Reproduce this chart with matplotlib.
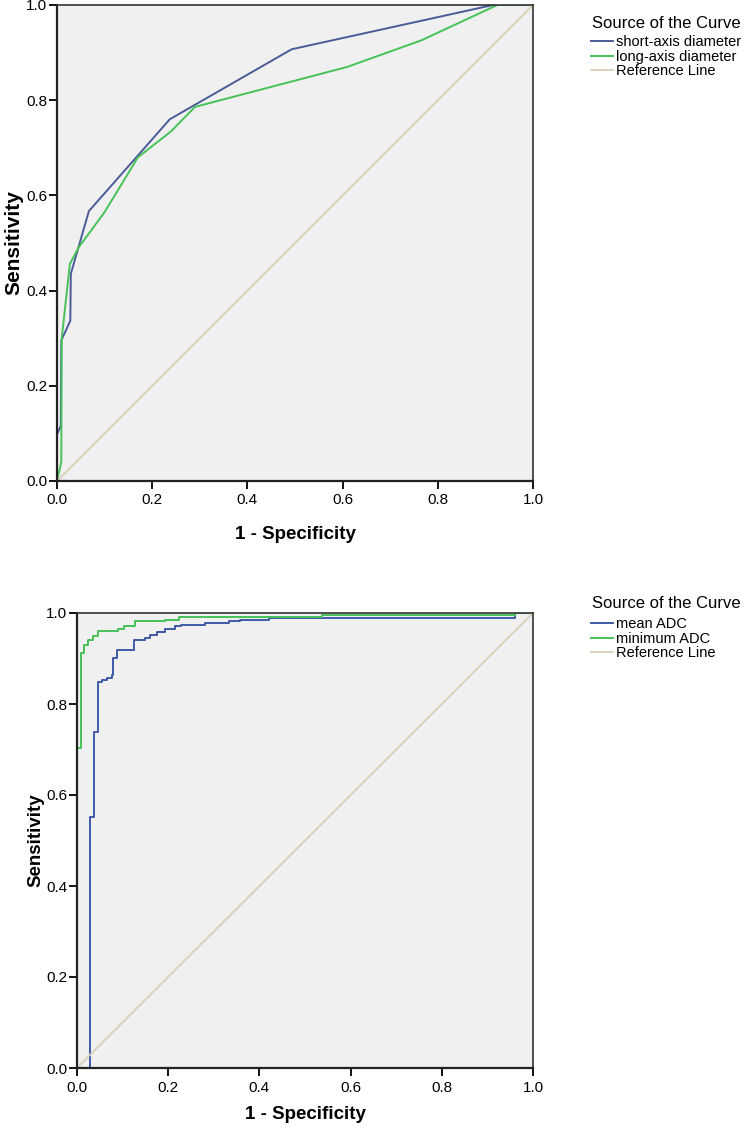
import matplotlib
matplotlib.use("Agg")
import matplotlib.pyplot as plt

plt.rcParams['font.family'] = ['Liberation Sans', 'DejaVu Sans']

# ---- top panel data ----
short_fpr = [0, 0, 0.008, 0.009, 0.028, 0.029, 0.067, 0.237, 0.493, 0.916, 1.0]
short_tpr = [0, 0.098, 0.116, 0.295, 0.337, 0.435, 0.567, 0.760, 0.907, 1.0, 1.0]
long_fpr = [0, 0.009, 0.010, 0.027, 0.045, 0.10, 0.17, 0.24, 0.29, 0.61, 0.766, 0.925, 1.0]
long_tpr = [0, 0.040, 0.300, 0.456, 0.490, 0.565, 0.680, 0.735, 0.786, 0.870, 0.926, 1.0, 1.0]

# ---- bottom panel data (step curves) ----
mean_fpr = [0, 0.028, 0.038, 0.047, 0.055, 0.066, 0.077, 0.080, 0.088, 0.124, 0.150,
            0.161, 0.175, 0.194, 0.216, 0.227, 0.281, 0.333, 0.358, 0.420, 0.961, 1.0]
mean_tpr = [0, 0.551, 0.738, 0.848, 0.853, 0.857, 0.864, 0.901, 0.919, 0.941, 0.945,
            0.951, 0.958, 0.965, 0.971, 0.974, 0.978, 0.982, 0.985, 0.989, 1.0, 1.0]
min_fpr = [0, 0, 0.008, 0.015, 0.025, 0.035, 0.047, 0.091, 0.102, 0.128, 0.194,
           0.223, 0.537, 0.961, 1.0]
min_tpr = [0, 0.703, 0.911, 0.930, 0.941, 0.950, 0.960, 0.965, 0.971, 0.982, 0.985,
           0.991, 0.996, 1.0, 1.0]

ref_line = [0, 1]
ticks = [0.0, 0.2, 0.4, 0.6, 0.8, 1.0]
tick_labels = ["0.0", "0.2", "0.4", "0.6", "0.8", "1.0"]

legend_title = "Source of the Curve"
top_labels = ["short-axis diameter", "long-axis diameter", "Reference Line"]
bottom_labels = ["mean ADC", "minimum ADC", "Reference Line"]

BLUE_TOP = '#4b5b98'
BLUE_BOT = '#3f5aa6'
GREEN = '#46c258'
REF = '#d8cfb8'
BG = '#f0f0f0'

W, H = 747, 1131
fig = plt.figure(figsize=(W / 100, H / 100), dpi=100)

ax1 = fig.add_axes([57 / W, 1 - 481 / H, 476 / W, 476 / H])
ax2 = fig.add_axes([77 / W, 1 - 1068 / H, 456 / W, 455 / H])


def style(ax, xpad, labelpad, ysize):
    ax.set_facecolor(BG)
    ax.set_xlim(0, 1)
    ax.set_ylim(0, 1)
    ax.set_xticks(ticks)
    ax.set_xticklabels(tick_labels)
    ax.set_yticks(ticks)
    ax.set_yticklabels(tick_labels)
    ax.tick_params(direction='out', length=6, width=1.3, labelsize=11, pad=1)
    ax.tick_params(axis='x', pad=xpad)
    for s in ['left', 'bottom']:
        ax.spines[s].set_linewidth(1.6)
        ax.spines[s].set_color('#222222')
    for s in ['top', 'right']:
        ax.spines[s].set_linewidth(1.2)
        ax.spines[s].set_color('#333333')
    ax.set_xlabel("1 - Specificity", fontsize=13.5, fontweight='bold', labelpad=labelpad)
    ax.set_ylabel("Sensitivity", fontsize=ysize, fontweight='bold')


l1, = ax1.plot(short_fpr, short_tpr, color=BLUE_TOP, lw=1.4)
l2, = ax1.plot(long_fpr, long_tpr, color=GREEN, lw=1.4)
l3, = ax1.plot(ref_line, ref_line, color=REF, lw=1.3)
style(ax1, xpad=3, labelpad=13, ysize=15)

m1, = ax2.plot(mean_fpr, mean_tpr, color=BLUE_BOT, lw=1.4, drawstyle='steps-post')
m2, = ax2.plot(min_fpr, min_tpr, color=GREEN, lw=1.4, drawstyle='steps-post')
m3, = ax2.plot(ref_line, ref_line, color=REF, lw=1.3)
style(ax2, xpad=3, labelpad=8, ysize=13.5)

ax1.yaxis.set_label_coords(-34 / 476, 0.5)
ax2.yaxis.set_label_coords(-33 / 456, 0.5)

# legend titles as text, legends without title
fig.text(592 / W, 1 - 23 / H, legend_title, fontsize=12, ha='left', va='center')
fig.text(592 / W, 1 - 604 / H, legend_title, fontsize=12, ha='left', va='center')

leg_kw = dict(frameon=False, fontsize=10.5, handlelength=1.5,
              handletextpad=0.2, labelspacing=0.05, borderaxespad=0, borderpad=0)
fig.legend([l1, l2, l3], top_labels, loc='upper left',
           bbox_to_anchor=(591 / W, 1 - 35 / H), **leg_kw)
fig.legend([m1, m2, m3], bottom_labels, loc='upper left',
           bbox_to_anchor=(591 / W, 1 - 617 / H), **leg_kw)

fig.savefig("out.png", dpi=100)
